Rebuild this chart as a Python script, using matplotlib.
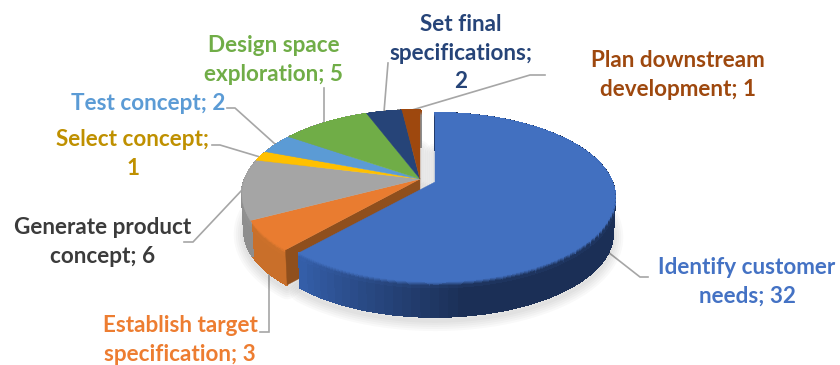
import numpy as np
import matplotlib
matplotlib.use("Agg")
import matplotlib.pyplot as plt
from matplotlib.collections import PolyCollection
from matplotlib.colors import to_rgb

# Product development effort by activity
categories = [
    "Identify customer\nneeds",
    "Establish target\nspecification",
    "Generate product\nconcept",
    "Select concept",
    "Test concept",
    "Design space\nexploration",
    "Set final\nspecifications",
    "Plan downstream\ndevelopment",
]
values = [32, 3, 6, 1, 2, 5, 2, 1]
value_separators = [" ", " ", " ", "\n", " ", " ", "\n", " "]

top_colors = ["#4270c0", "#e97c30", "#a5a5a5", "#ffc000",
              "#5b9bd5", "#70ad47", "#264478", "#9e480e"]
label_colors = ["#4472c4", "#ed7d31", "#3b3b3b", "#bf9000",
                "#5b9bd5", "#70ad47", "#264478", "#9e480e"]
label_positions = [(747, 282), (180, 340), (103, 242), (133, 154),
                   (148, 104), (274, 60), (461, 53), (678, 75)]
leader_lines = [
    [(608, 252), (640, 277), (648, 277)],
    [(269, 275), (269, 332), (260, 332)],
    [(242, 190), (193, 242), (184, 242)],
    [(260, 157), (220, 145), (212, 145)],
    [(275, 144), (235, 108), (227, 108)],
    [(324, 123), (324, 88)],
    [(384, 112), (388, 63)],
    [(412, 110), (530, 75), (545, 75)],
]

# Pie geometry in pixels; the first slice is pulled out from the rest
REST = dict(cx=420.0, cy=179.0, rx=175.0)
PULLED = dict(cx=435.0, cy=182.0, rx=177.0)
RY = 81.6
TILT = 0.183
DEPTH = 36.0
SHRINK = 0.012
BEVEL = 0.16

fig = plt.figure(figsize=(8.4, 3.65), dpi=100)
ax = fig.add_axes([0, 0, 1, 1])
ax.set_xlim(0, 840)
ax.set_ylim(365, 0)
ax.axis("off")


def project(theta, geo, u=0.0):
    """Perspective projection of a rim point; u runs 0..1 down the pie's side."""
    px = np.cos(theta)
    py = np.sin(theta)
    d = 1 + TILT * py
    s = 1 - SHRINK * u
    return geo["cx"] + s * geo["rx"] * px / d, geo["cy"] - s * RY * py / d + DEPTH * u


def mix(a, b, f):
    a, b = np.array(to_rgb(a)), np.array(to_rgb(b))
    return tuple(a + (b - a) * f)


def side_color(index, theta):
    if index == 0:
        # the blue wall darkens from its left corner to the right
        f = np.clip((theta - end_angles[0]) / np.radians(50), 0, 1)
        return mix("#3560ac", "#1b2f56", f)
    if index == 1:
        return "#c96f2a"
    return "#8e8e8e"


def draw_side(index, geo, zorder):
    ts = np.linspace(start_angles[index], end_angles[index], 90)

    # plain wall, one full-height strip per angular step; the strips overlap
    # without antialiasing so no seams appear between them
    polys, cols = [], []
    for t0, t1 in zip(ts[:-1], ts[1:]):
        polys.append([project(t0, geo, 0), project(t1, geo, 0),
                      project(t1, geo, 1), project(t0, geo, 1)])
        cols.append(side_color(index, t0))
    ax.add_collection(PolyCollection(polys, facecolors=cols, edgecolors=cols,
                                     linewidths=1.0, antialiaseds=False,
                                     zorder=zorder))

    # soft bevel where the wall meets the top face
    us = np.linspace(0, BEVEL, 7)
    polys, cols = [], []
    for t0, t1 in zip(ts[:-1], ts[1:]):
        for u0, u1 in zip(us[:-1], us[1:]):
            polys.append([project(t0, geo, u0), project(t1, geo, u0),
                          project(t1, geo, u1), project(t0, geo, u1)])
            f = np.clip(u0 / BEVEL, 0, 1)
            f = f * f * (3 - 2 * f)
            cols.append(mix(top_colors[index], side_color(index, t0), f))
    ax.add_collection(PolyCollection(polys, facecolors=cols, edgecolors=cols,
                                     linewidths=0.8, antialiaseds=False,
                                     zorder=zorder))


def draw_top(index, geo, zorder):
    ts = np.linspace(start_angles[index], end_angles[index], 160)
    xs, ys = project(ts, geo)
    xs = np.concatenate([[geo["cx"]], xs])
    ys = np.concatenate([[geo["cy"]], ys])
    ax.fill(xs, ys, facecolor=top_colors[index], edgecolor=top_colors[index],
            linewidth=0.3, zorder=zorder)


def draw_shadow(theta_from, theta_to, geo):
    ts = np.linspace(theta_from, theta_to, 200)
    xt, yt = project(ts, geo, 1.0)
    xs = np.concatenate([[geo["cx"]], xt, [geo["cx"]]])
    ys = np.concatenate([[geo["cy"]], yt, [geo["cy"]]]) + 4
    for lw in (3, 6, 9, 12, 15):
        ax.fill(xs, ys, facecolor="none", edgecolor="black", alpha=0.022,
                linewidth=lw, joinstyle="round", zorder=1)


# Slices run clockwise from twelve o'clock
fractions = np.array(values) / np.sum(values)
bounds = np.pi / 2 - 2 * np.pi * np.concatenate([[0], np.cumsum(fractions)])
start_angles = bounds[:-1]
end_angles = bounds[1:]

draw_shadow(start_angles[1], end_angles[-1], REST)
draw_shadow(start_angles[0], end_angles[0], PULLED)

# Walls of the remaining slices, then the exposed cut face of the second slice
for i in range(1, len(values)):
    draw_side(i, REST, 2)

cut_t = start_angles[1]
ox, oy = project(cut_t, REST)
bx, by = project(cut_t, REST, 1.0)
cx0, cy0 = REST["cx"], REST["cy"]
ax.fill([cx0, ox, bx, cx0], [cy0, oy, by, cy0 + DEPTH],
        facecolor="#8f4f1d", edgecolor="#8f4f1d", linewidth=0.3, zorder=3)

for i in range(1, len(values)):
    draw_top(i, REST, 4)

# The pulled-out slice sits in front of everything else
draw_side(0, PULLED, 5)
draw_top(0, PULLED, 6)

for pts in leader_lines:
    xs, ys = zip(*pts)
    ax.plot(xs, ys, color="#a6a6a6", linewidth=1.2, zorder=0.5,
            solid_joinstyle="miter")

for name, val, sep, color, (lx, ly) in zip(categories, values, value_separators,
                                           label_colors, label_positions):
    ax.text(lx, ly, f"{name};{sep}{val}", color=color, ha="center", va="center",
            family="Lato", fontweight="bold", fontsize=16.2,
            linespacing=1.45, multialignment="center", zorder=7)

fig.savefig("out.png", dpi=100, facecolor="white")
